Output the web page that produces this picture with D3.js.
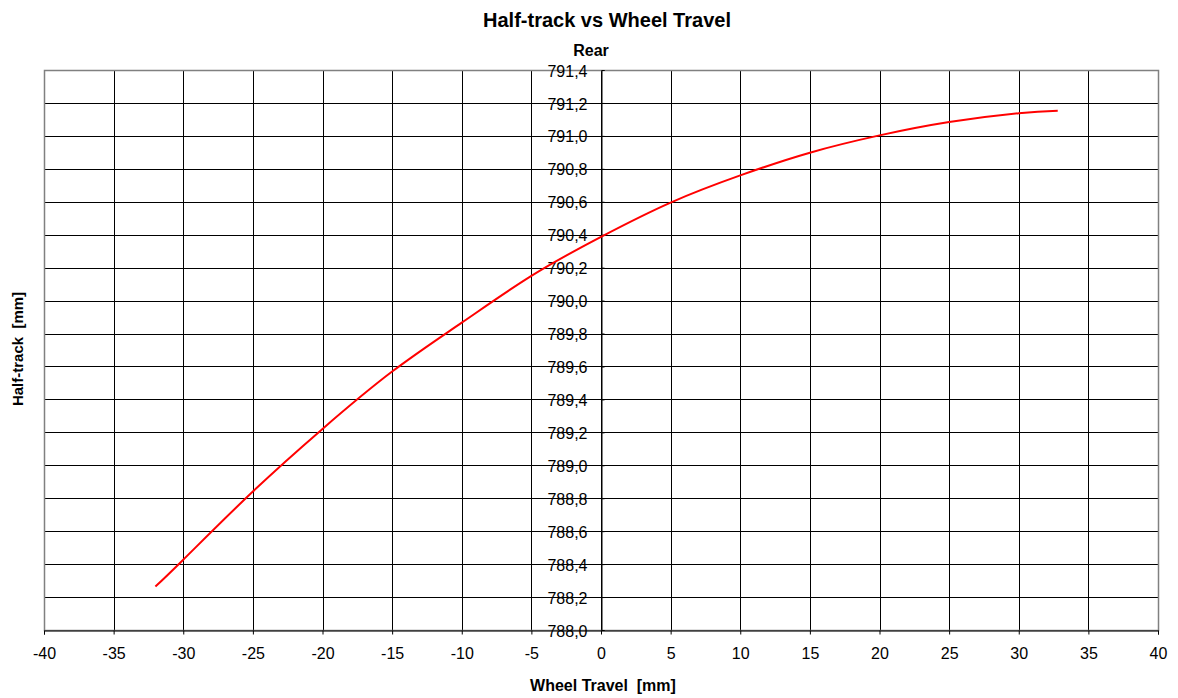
<!DOCTYPE html>
<html>
<head>
<meta charset="utf-8">
<script src="https://cdn.jsdelivr.net/npm/d3@7"></script>
<style>
  body { margin: 0; background: #fff; }
  svg { font-family: "Liberation Sans", Arial, sans-serif; }
  .lbl { white-space: pre; }
</style>
</head>
<body>
<svg id="chart" width="1178" height="698"></svg>
<script>
// wheel travel [mm] and half-track [mm]
var travel = [-32.0, -30, -25, -20, -15, -10, -5, 0, 5, 10, 15, 20, 25, 30, 32.8];
var halfTrack = [788.264, 788.427, 788.841, 789.221, 789.569, 789.866, 790.150, 790.387, 790.595, 790.760, 790.898, 791.003, 791.084, 791.138, 791.153];
var xTicks = d3.range(-40, 41, 5);
var yTicks = d3.range(0, 18).map(i => 788 + i * 0.2);

var svg = d3.select("#chart");
var margin = {top: 70, left: 44},
    width = 1158 - margin.left,
    height = 630 - margin.top;

var x = d3.scaleLinear().domain([-40, 40]).range([0, width]);
var y = d3.scaleLinear().domain([788, 791.4]).range([height, 0]);

var g = svg.append("g")
    .attr("transform", "translate(" + margin.left + "," + margin.top + ")");

// grid
g.selectAll(".vgrid")
    .data(xTicks)
    .enter().append("line")
    .attr("x1", d => Math.round(x(d)) + 0.5)
    .attr("x2", d => Math.round(x(d)) + 0.5)
    .attr("y1", 0)
    .attr("y2", height)
    .attr("stroke", "#000")
    .attr("stroke-width", 1);

g.selectAll(".hgrid")
    .data(yTicks)
    .enter().append("line")
    .attr("x1", 0)
    .attr("x2", width)
    .attr("y1", d => Math.round(y(d)) + 0.5)
    .attr("y2", d => Math.round(y(d)) + 0.5)
    .attr("stroke", "#000")
    .attr("stroke-width", 1);

// plot border
g.append("rect")
    .attr("x", 0.5)
    .attr("y", 0.5)
    .attr("width", width)
    .attr("height", height)
    .attr("fill", "none")
    .attr("stroke", "#808080")
    .attr("stroke-width", 1.5);

// x axis at the bottom
var xAxis = d3.axisBottom(x).tickValues(xTicks).tickSize(4).tickPadding(13).tickFormat(d3.format("d"));
var gx = g.append("g")
    .attr("transform", "translate(0," + (height + 0.5) + ")")
    .call(xAxis);
gx.select(".domain").attr("stroke", "#000");
gx.selectAll("text").attr("font-size", 16).attr("fill", "#000")
    .text(d => String(d));

// y axis crossing at x = 0
var yAxis = d3.axisRight(y).tickValues(yTicks).tickSize(3).tickPadding(0)
    .tickFormat(d => d3.format(".1f")(d).replace(".", ","));
var gy = g.append("g")
    .attr("transform", "translate(" + (Math.round(x(0)) + 0.5) + ",0)")
    .call(yAxis);
gy.select(".domain").attr("stroke", "#000");
gy.selectAll("text")
    .attr("font-size", 16)
    .attr("fill", "#000")
    .attr("text-anchor", "end")
    .attr("x", -14)
    .attr("dy", "0.38em");

// curve
var line = d3.line()
    .x((d, i) => x(travel[i]))
    .y(d => y(d))
    .curve(d3.curveNatural);

g.append("path")
    .datum(halfTrack)
    .attr("d", line)
    .attr("fill", "none")
    .attr("stroke", "#ff0000")
    .attr("stroke-width", 2);

// titles
svg.append("text")
    .attr("x", 607)
    .attr("y", 27)
    .attr("text-anchor", "middle")
    .attr("font-size", 20)
    .attr("font-weight", "bold")
    .text("Half-track vs Wheel Travel");

svg.append("text")
    .attr("x", 591)
    .attr("y", 56)
    .attr("text-anchor", "middle")
    .attr("font-size", 16)
    .attr("font-weight", "bold")
    .text("Rear");

svg.append("text")
    .attr("class", "lbl")
    .attr("x", 603)
    .attr("y", 691)
    .attr("text-anchor", "middle")
    .attr("font-size", 16)
    .attr("font-weight", "bold")
    .text("Wheel Travel  [mm]");

svg.append("text")
    .attr("class", "lbl")
    .attr("transform", "translate(23,349) rotate(-90)")
    .attr("text-anchor", "middle")
    .attr("font-size", 15)
    .attr("font-weight", "bold")
    .text("Half-track  [mm]");
</script>
</body>
</html>
